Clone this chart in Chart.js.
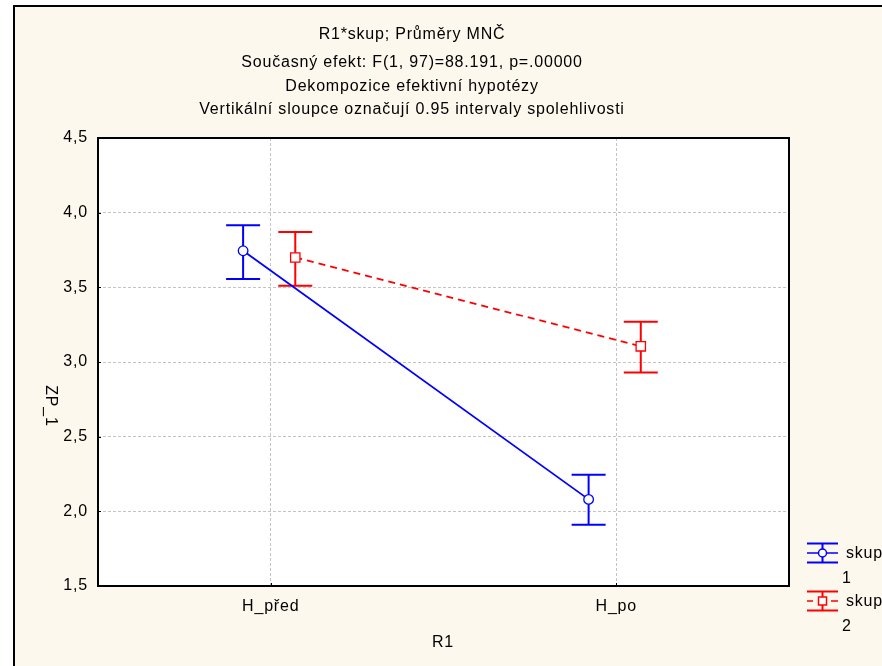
<!DOCTYPE html>
<html><head><meta charset="utf-8">
<script src="https://cdn.jsdelivr.net/npm/chart.js@4"></script>
<style>html,body{margin:0;padding:0;background:#fff}canvas{display:block}</style>
</head><body>
<canvas id="c" width="882" height="666"></canvas>
<script>
// ---- data ----
const categories = ['H_před', 'H_po'];
const yTicks = [1.5, 2.0, 2.5, 3.0, 3.5, 4.0, 4.5];
const seriesNames = ['skup', 'skup'];
const seriesCodes = ['1', '2'];
const skup1Mean = [3.745, 2.08];
const skup1Low  = [3.555, 1.91];
const skup1High = [3.915, 2.245];
const skup2Mean = [3.70, 3.105];
const skup2Low  = [3.51, 2.93];
const skup2High = [3.87, 3.27];
const titleLines = [
  'R1*skup; Průměry MNČ',
  'Současný efekt: F(1, 97)=88.191, p=.00000',
  'Dekompozice efektivní hypotézy',
  'Vertikální sloupce označují 0.95 intervaly spolehlivosti'
];
const xTitle = 'R1';
const yTitle = 'ZP_1';

// ---- style ----
const FAMILY = '"Liberation Sans", Arial, sans-serif';
const FSIZE = 16;
const FONT = FSIZE + 'px ' + FAMILY;
const SPACING = '0.8px';
const CREAM = '#fdf8ee';
const BLUE = '#0000ff';
const RED = '#ff0000';
const OFFSETS = [-0.08, 0.071];
const CAP = 17;
const lows = [skup1Low, skup2Low];
const highs = [skup1High, skup2High];
const colors = [BLUE, RED];

const deco = {
  id: 'deco',
  beforeDraw(chart) {
    const ctx = chart.ctx, ca = chart.chartArea;
    ctx.save();
    ctx.fillStyle = '#fff'; ctx.fillRect(0, 0, 882, 666);
    ctx.fillStyle = CREAM; ctx.fillRect(14, 6, 868, 660);
    ctx.strokeStyle = '#000'; ctx.lineWidth = 2;
    ctx.beginPath(); ctx.moveTo(14, 666); ctx.lineTo(14, 6); ctx.lineTo(882, 6); ctx.stroke();
    ctx.fillStyle = '#fff'; ctx.fillRect(ca.left, ca.top, ca.width, ca.height);
    ctx.restore();
    ctx.letterSpacing = SPACING;
  },
  beforeDatasetsDraw(chart) {
    const ctx = chart.ctx, ca = chart.chartArea;
    const xs = chart.scales.x, ys = chart.scales.y;
    ctx.save();
    // frame
    ctx.strokeStyle = '#000'; ctx.lineWidth = 2;
    ctx.strokeRect(ca.left, ca.top, ca.width, ca.height);
    ctx.lineWidth = 1;
    ctx.beginPath();
    xs.ticks.forEach(t => { const px = Math.round(xs.getPixelForValue(t.value)) + 0.5; ctx.moveTo(px, ca.bottom); ctx.lineTo(px, ca.bottom - 3); });
    ys.ticks.forEach(t => { const py = Math.round(ys.getPixelForValue(t.value)) + 0.5; ctx.moveTo(ca.left, py); ctx.lineTo(ca.left + 3, py); });
    ctx.stroke();
    // error bars
    ctx.lineWidth = 2;
    for (let i = 0; i < 2; i++) {
      ctx.strokeStyle = colors[i];
      categories.forEach((c, j) => {
        const x = xs.getPixelForValue(j + OFFSETS[i]);
        const y1 = ys.getPixelForValue(lows[i][j]);
        const y2 = ys.getPixelForValue(highs[i][j]);
        ctx.beginPath();
        ctx.moveTo(x, y1); ctx.lineTo(x, y2);
        ctx.moveTo(x - CAP, y1); ctx.lineTo(x + CAP, y1);
        ctx.moveTo(x - CAP, y2); ctx.lineTo(x + CAP, y2);
        ctx.stroke();
      });
    }
    ctx.restore();
  },
  afterDraw(chart) {
    const ctx = chart.ctx;
    ctx.save();
    ctx.letterSpacing = SPACING;
    ctx.fillStyle = '#000';
    ctx.font = FONT;
    ctx.textAlign = 'center';
    ctx.textBaseline = 'alphabetic';
    const bases = [39, 67, 91, 114];
    titleLines.forEach((t, i) => ctx.fillText(t, 412, bases[i]));
    ctx.textBaseline = 'middle';
    ctx.fillText(xTitle, 443, 643);
    ctx.save();
    ctx.translate(50, 406);
    ctx.rotate(Math.PI / 2);
    ctx.fillText(yTitle, 0, 0);
    ctx.restore();
    // legend
    const cy = [553, 601];
    for (let i = 0; i < 2; i++) {
      const y = cy[i];
      ctx.strokeStyle = colors[i];
      ctx.lineWidth = 2;
      ctx.beginPath();
      ctx.moveTo(807, y - 9.5); ctx.lineTo(838, y - 9.5);
      ctx.moveTo(807, y + 9.5); ctx.lineTo(838, y + 9.5);
      ctx.moveTo(822.5, y - 9.5); ctx.lineTo(822.5, y + 9.5);
      ctx.stroke();
      ctx.lineWidth = 1.5;
      ctx.beginPath();
      if (i === 0) {
        ctx.moveTo(807, y); ctx.lineTo(838, y);
      } else {
        ctx.moveTo(807, y); ctx.lineTo(813, y);
        ctx.moveTo(831, y); ctx.lineTo(838, y);
      }
      ctx.stroke();
      ctx.fillStyle = '#fff';
      ctx.beginPath();
      if (i === 0) ctx.arc(822.5, y, 4, 0, Math.PI * 2);
      else ctx.rect(818.5, y - 4, 8, 8);
      ctx.fill(); ctx.stroke();
      ctx.fillStyle = '#000';
      ctx.textAlign = 'left';
      ctx.fillText(seriesNames[i], 846, y + 1);
      ctx.fillText(seriesCodes[i], 842, y + 26);
    }
    ctx.restore();
  }
};

const mk = (arr, i) => categories.map((c, j) => ({ x: j + OFFSETS[i], y: arr[j] }));

new Chart(document.getElementById('c'), {
  type: 'scatter',
  data: {
    datasets: [
      { label: 'skup 1', data: mk(skup1Mean, 0), showLine: true, borderColor: BLUE, borderWidth: 1.8,
        pointStyle: 'circle', pointRadius: 4.8, pointBackgroundColor: '#fff', pointBorderColor: BLUE, pointBorderWidth: 1.3 },
      { label: 'skup 2', data: mk(skup2Mean, 1), showLine: true, borderColor: RED, borderWidth: 1.8, borderDash: [7, 5],
        pointStyle: 'rect', pointRadius: 6.6, pointBackgroundColor: '#fff', pointBorderColor: RED, pointBorderWidth: 1.3 }
    ]
  },
  options: {
    responsive: false, devicePixelRatio: 1, animation: false,
    layout: { padding: { top: 138, right: 93, bottom: 0, left: 0 } },
    plugins: { legend: { display: false }, title: { display: false }, tooltip: { enabled: false } },
    scales: {
      x: {
        type: 'linear', min: -0.5, max: 1.5,
        afterBuildTicks: s => { s.ticks = categories.map((c, i) => ({ value: i })); },
        afterFit: s => { s.height = 80; },
        ticks: { callback: v => categories[v] ?? '', color: '#000', font: { family: FAMILY, size: FSIZE }, padding: 11, maxRotation: 0, autoSkip: false },
        grid: { color: '#c4c4c4', lineWidth: 1, drawTicks: false },
        border: { display: false, dash: [3, 2] }
      },
      y: {
        min: 1.5, max: 4.5,
        afterBuildTicks: s => { s.ticks = yTicks.map(v => ({ value: v })); },
        afterFit: s => { s.width = 98; },
        ticks: { callback: v => v.toFixed(1).replace('.', ','), color: '#000', font: { family: FAMILY, size: FSIZE }, padding: 10 },
        grid: { color: '#c4c4c4', lineWidth: 1, drawTicks: false },
        border: { display: false, dash: [3, 2] }
      }
    }
  },
  plugins: [deco]
});
</script>
</body></html>
